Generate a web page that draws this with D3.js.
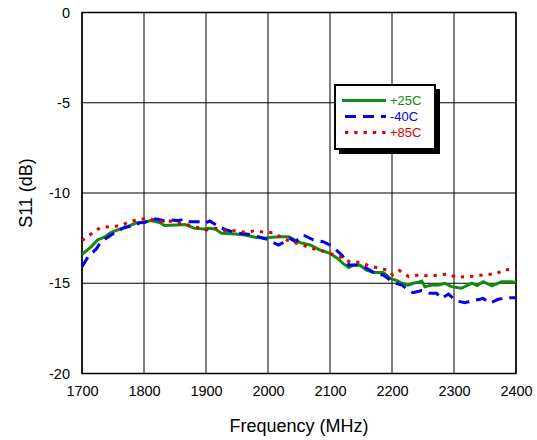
<!DOCTYPE html>
<html lang="en">
<head>
<meta charset="UTF-8">
<title>S11 vs Frequency</title>
<script src="https://d3js.org/d3.v7.min.js"></script>
<style>
  body { margin: 0; background: #fff; font-family: "Liberation Sans", Arial, sans-serif; }
</style>
</head>
<body>
<div id="chart"></div>
<script>
// Frequency (MHz) and S11 (dB)
const freq25 = [1700,1715,1725,1736,1746,1757,1773,1788,1803,1811,1825,1833,1852,1866,1882,1898,1906,1915,1925,1947,1963,1979,1995,2006,2022,2033,2043,2052,2068,2084,2100,2111,2121,2130,2138,2148,2159,2170,2186,2197,2208,2216,2226,2234,2242,2248,2253,2264,2275,2285,2296,2312,2329,2337,2347,2361,2377,2393,2400];
const s11_25 = [-13.4,-12.97,-12.6,-12.45,-12.2,-12.05,-11.87,-11.65,-11.6,-11.53,-11.63,-11.8,-11.77,-11.75,-11.96,-12.0,-11.96,-12.0,-12.23,-12.27,-12.33,-12.45,-12.51,-12.45,-12.42,-12.42,-12.6,-12.75,-12.88,-13.16,-13.34,-13.6,-13.9,-14.13,-14.0,-13.99,-14.27,-14.4,-14.4,-14.73,-14.85,-15.0,-15.1,-15.0,-14.95,-14.88,-15.19,-15.1,-15.1,-15.0,-15.19,-15.28,-15.0,-15.13,-14.91,-15.15,-14.91,-14.91,-14.96];

const freqM40 = [1700,1710,1723,1731,1747,1758,1769,1782,1793,1801,1812,1823,1833,1844,1855,1866,1874,1890,1898,1906,1923,1933,1952,1968,1984,1998,2009,2017,2027,2035,2044,2057,2073,2089,2103,2119,2130,2143,2154,2164,2175,2186,2197,2205,2216,2226,2234,2248,2261,2272,2280,2291,2304,2318,2328,2342,2347,2358,2371,2387,2400];
const s11_m40 = [-14.08,-13.53,-13.1,-12.7,-12.33,-12.1,-11.9,-11.83,-11.65,-11.63,-11.44,-11.46,-11.55,-11.5,-11.53,-11.44,-11.59,-11.59,-11.68,-11.55,-11.92,-12.05,-12.23,-12.29,-12.42,-12.56,-12.75,-12.88,-12.7,-12.51,-12.7,-12.33,-12.6,-12.7,-12.94,-13.43,-13.99,-13.99,-14.08,-14.27,-14.5,-14.54,-14.82,-15.0,-15.1,-15.37,-15.52,-15.41,-15.56,-15.56,-15.84,-15.6,-15.98,-16.08,-15.98,-15.89,-15.84,-16.11,-15.89,-15.8,-15.8];

const freq85 = [1700,1714,1730,1746,1761,1777,1792,1808,1823,1839,1854,1868,1885,1900,1916,1932,1947,1963,1979,1994,2009,2024,2040,2056,2070,2087,2102,2118,2133,2148,2164,2179,2193,2201,2212,2227,2244,2260,2275,2290,2304,2320,2337,2351,2367,2382,2400];
const s11_85 = [-12.64,-12.29,-11.9,-11.87,-11.81,-11.59,-11.46,-11.4,-11.59,-11.53,-11.68,-11.74,-11.9,-12.05,-11.96,-12.09,-12.09,-12.18,-12.09,-12.18,-12.2,-12.51,-12.73,-12.88,-13.07,-13.2,-13.38,-13.56,-13.84,-13.84,-14.04,-14.17,-14.27,-14.54,-14.3,-14.63,-14.54,-14.6,-14.54,-14.5,-14.67,-14.63,-14.6,-14.5,-14.5,-14.23,-14.3];

const xTicks = [1700,1800,1900,2000,2100,2200,2300,2400];
const yTicks = [0,-5,-10,-15,-20];
const seriesNames = ["+25C","-40C","+85C"];

const width = 537, height = 440;
const margin = {top: 12.5, right: 21, bottom: 66.5, left: 82};

const svg = d3.select("#chart").append("svg")
  .attr("width", width)
  .attr("height", height);

const x = d3.scaleLinear().domain([1700, 2400]).range([margin.left, width - margin.right]);
const y = d3.scaleLinear().domain([-20, 0]).range([height - margin.bottom, margin.top]);

// grid lines
svg.append("g").selectAll("line").data(xTicks).join("line")
  .attr("x1", d => x(d)).attr("x2", d => x(d))
  .attr("y1", y(0)).attr("y2", y(-20))
  .attr("stroke", "#000").attr("stroke-width", 1);
svg.append("g").selectAll("line").data(yTicks).join("line")
  .attr("x1", x(1700)).attr("x2", x(2400))
  .attr("y1", d => y(d)).attr("y2", d => y(d))
  .attr("stroke", "#000").attr("stroke-width", 1);

// plot frame
svg.append("rect")
  .attr("x", x(1700)).attr("y", y(0))
  .attr("width", x(2400) - x(1700)).attr("height", y(-20) - y(0))
  .attr("fill", "none").attr("stroke", "#000").attr("stroke-width", 1.5);

// axes (labels only, plain hyphen for negatives)
const xAxis = svg.append("g")
  .attr("transform", `translate(0,${y(-20)})`)
  .call(d3.axisBottom(x).tickValues(xTicks).tickFormat(d => String(d)).tickSize(0).tickPadding(12));
const yAxis = svg.append("g")
  .attr("transform", `translate(${x(1700)},0)`)
  .call(d3.axisLeft(y).tickValues(yTicks).tickFormat(d => String(d)).tickSize(0).tickPadding(12));
[xAxis, yAxis].forEach(a => {
  a.select(".domain").remove();
  a.selectAll("text")
    .attr("font-family", "'Liberation Sans', Arial, sans-serif")
    .attr("font-size", 14.5).attr("fill", "#000");
});

// axis titles
svg.append("text")
  .attr("x", (x(1700) + x(2400)) / 2).attr("y", 432)
  .attr("text-anchor", "middle")
  .attr("font-size", 18).attr("fill", "#000")
  .text("Frequency (MHz)");
svg.append("text")
  .attr("transform", `translate(32,${(y(0) + y(-20)) / 2}) rotate(-90)`)
  .attr("text-anchor", "middle")
  .attr("font-size", 18).attr("fill", "#000")
  .text("S11 (dB)");

// series
const line = d3.line().x(d => x(d[0])).y(d => y(d[1]));
const series = [
  {name: seriesNames[0], data: d3.zip(freq25, s11_25), color: "#138a13", dash: null},
  {name: seriesNames[1], data: d3.zip(freqM40, s11_m40), color: "#0000ee", dash: "11,7"},
  {name: seriesNames[2], data: d3.zip(freq85, s11_85), color: "#e00000", dash: "3.3,6"}
];

svg.append("g").selectAll("path").data(series).join("path")
  .attr("d", s => line(s.data))
  .attr("fill", "none")
  .attr("stroke", s => s.color)
  .attr("stroke-width", 3)
  .attr("stroke-dasharray", s => s.dash);

// legend
const lg = svg.append("g").attr("transform", "translate(335,85)");
lg.append("rect").attr("x", 4).attr("y", 4).attr("width", 101).attr("height", 65).attr("fill", "#000");
lg.append("rect").attr("x", 0).attr("y", 0).attr("width", 100).attr("height", 64)
  .attr("fill", "#fff").attr("stroke", "#000").attr("stroke-width", 2);
series.forEach((s, i) => {
  const yy = 15.5 + i * 16;
  lg.append("line")
    .attr("x1", s.dash ? 10 : 7).attr("x2", 51)
    .attr("y1", yy).attr("y2", yy)
    .attr("stroke", s.color).attr("stroke-width", 3)
    .attr("stroke-dasharray", s.dash);
  lg.append("text")
    .attr("x", 55).attr("y", yy + 4.5)
    .attr("font-size", 13).attr("fill", s.color)
    .text(s.name);
});
</script>
</body>
</html>
